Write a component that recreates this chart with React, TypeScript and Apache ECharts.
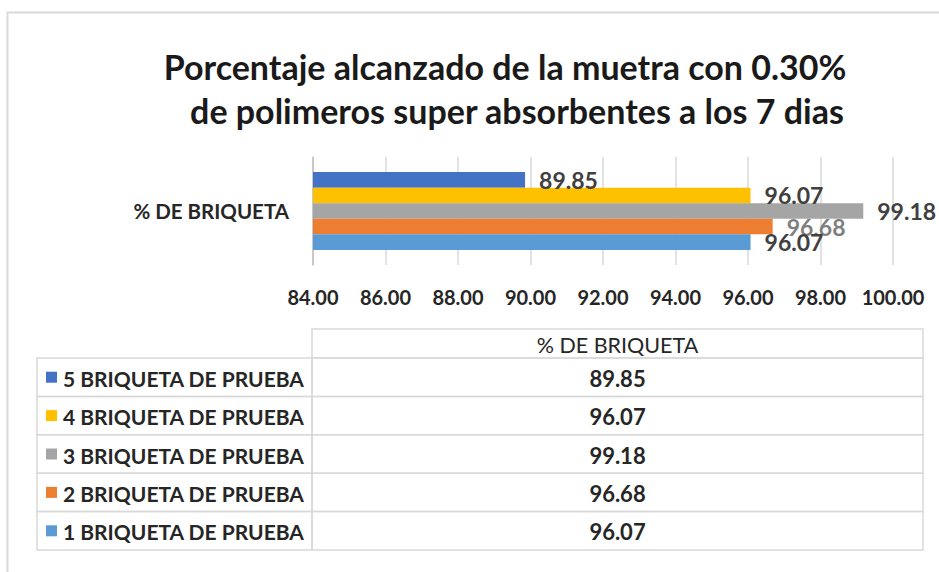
import React, { useEffect, useRef } from 'react';
import * as echarts from 'echarts';

const titleLines = [
  'Porcentaje alcanzado de la muetra con 0.30%',
  'de polimeros super absorbentes a los 7 dias',
];
const categories = ['% DE BRIQUETA'];
const seriesNames = [
  '1 BRIQUETA DE PRUEBA',
  '2 BRIQUETA DE PRUEBA',
  '3 BRIQUETA DE PRUEBA',
  '4 BRIQUETA DE PRUEBA',
  '5 BRIQUETA DE PRUEBA',
];
const seriesValues = [96.07, 96.68, 99.18, 96.07, 89.85];
const axisMin = 84;
const axisMax = 100;
const axisInterval = 2;

const seriesColors = ['#5B9BD5', '#ED7D31', '#A5A5A5', '#FFC000', '#4472C4'];
const labelColors = ['#404040', '#7F7F7F', '#404040', '#404040', '#404040'];

const FONT = 'Lato';
const TEXT = '#262626';
const BORDER = '#D9D9D9';

export default function App() {
  const ref = useRef<HTMLDivElement>(null);
  useEffect(() => {
    if (!ref.current) return;
    const chart = echarts.init(ref.current, undefined, { renderer: 'svg' });

    // table layout
    const tLeft = 37;
    const tDiv = 312;
    const tRight = 923;
    const headTop = 329;
    const rowTop = 358;
    const rowH = 38.4;
    const valCenter = (tDiv + tRight) / 2;

    const graphics: any[] = [
      {
        type: 'polyline',
        shape: { points: [[7.5, 572], [7.5, 12.5], [939, 12.5]] },
        style: { stroke: BORDER, lineWidth: 2, fill: null },
        silent: true,
      },
      {
        type: 'rect',
        shape: { x: tDiv, y: headTop, width: tRight - tDiv, height: rowTop - headTop },
        style: { stroke: BORDER, lineWidth: 1.5, fill: null },
      },
      {
        type: 'text',
        x: valCenter,
        y: (headTop + rowTop) / 2 + 1,
        style: {
          text: categories[0],
          align: 'center',
          verticalAlign: 'middle',
          fontFamily: FONT,
          fontSize: 21.5,
          fontWeight: 'normal',
          fill: TEXT,
        },
      },
    ];

    const n = seriesNames.length;
    for (let r = 0; r < n; r++) {
      const si = n - 1 - r; // top row is last series
      const y = rowTop + r * rowH;
      const cy = y + rowH / 2;
      graphics.push(
        {
          type: 'rect',
          shape: { x: tLeft, y, width: tDiv - tLeft, height: rowH },
          style: { stroke: BORDER, lineWidth: 1.5, fill: null },
        },
        {
          type: 'rect',
          shape: { x: tDiv, y, width: tRight - tDiv, height: rowH },
          style: { stroke: BORDER, lineWidth: 1.5, fill: null },
        },
        {
          type: 'rect',
          shape: { x: 46, y: cy - 5.5, width: 11, height: 11 },
          style: { fill: seriesColors[si] },
        },
        {
          type: 'text',
          x: 63,
          y: cy + 1,
          style: {
            text: seriesNames[si],
            align: 'left',
            verticalAlign: 'middle',
            fontFamily: FONT,
            fontSize: 21,
            fontWeight: 'bold',
            fill: TEXT,
          },
        },
        {
          type: 'text',
          x: valCenter,
          y: cy + 1,
          style: {
            text: seriesValues[si].toFixed(2),
            align: 'center',
            verticalAlign: 'middle',
            fontFamily: FONT,
            fontSize: 22,
            fontWeight: 'bold',
            fill: TEXT,
          },
        }
      );
    }

    // series drawn top to bottom: 5 ... 1 (ECharts puts the first series on top)
    const order = seriesNames.map((_, i) => n - 1 - i);

    chart.setOption({
      animation: false,
      backgroundColor: '#FFFFFF',
      title: [
        {
          text: titleLines[0],
          left: 500,
          top: 44,
          textAlign: 'center',
          textStyle: { fontFamily: FONT, fontSize: 34, fontWeight: 'bold', color: '#1a1a1a' },
        },
        {
          text: titleLines[1],
          left: 512,
          top: 88,
          textAlign: 'center',
          textStyle: { fontFamily: FONT, fontSize: 34, fontWeight: 'bold', color: '#1a1a1a' },
        },
      ],
      grid: { left: 313, right: 46, top: 157, height: 108, containLabel: false },
      xAxis: {
        type: 'value',
        min: axisMin,
        max: axisMax,
        interval: axisInterval,
        axisLine: { show: false },
        axisTick: { show: false },
        splitLine: { show: true, lineStyle: { color: BORDER, width: 1.5 } },
        axisLabel: {
          formatter: (v: number) => v.toFixed(2),
          fontFamily: FONT,
          fontSize: 20,
          fontWeight: 'bold',
          color: TEXT,
          margin: 22,
        },
      },
      yAxis: {
        type: 'category',
        data: categories,
        axisTick: { show: false },
        axisLine: { show: true, lineStyle: { color: '#BFBFBF', width: 1.5 } },
        axisLabel: {
          fontFamily: FONT,
          fontSize: 20.5,
          fontWeight: 'bold',
          color: TEXT,
          margin: 24,
        },
      },
      series: order.map((i) => ({
        type: 'bar',
        name: seriesNames[i],
        data: [seriesValues[i]],
        barGap: '0%',
        barCategoryGap: '28%',
        itemStyle: { color: seriesColors[i] },
        label: {
          show: true,
          position: 'right',
          distance: 14,
          formatter: (p: any) => Number(p.value).toFixed(2),
          fontFamily: FONT,
          fontSize: 23,
          fontWeight: 'bold',
          color: labelColors[i],
        },
      })),
      graphic: graphics,
    });

    return () => chart.dispose();
  }, []);

  return (
    <div
      ref={ref}
      style={{ position: 'fixed', left: 0, top: 0, width: 939, height: 572, background: '#fff' }}
    />
  );
}
